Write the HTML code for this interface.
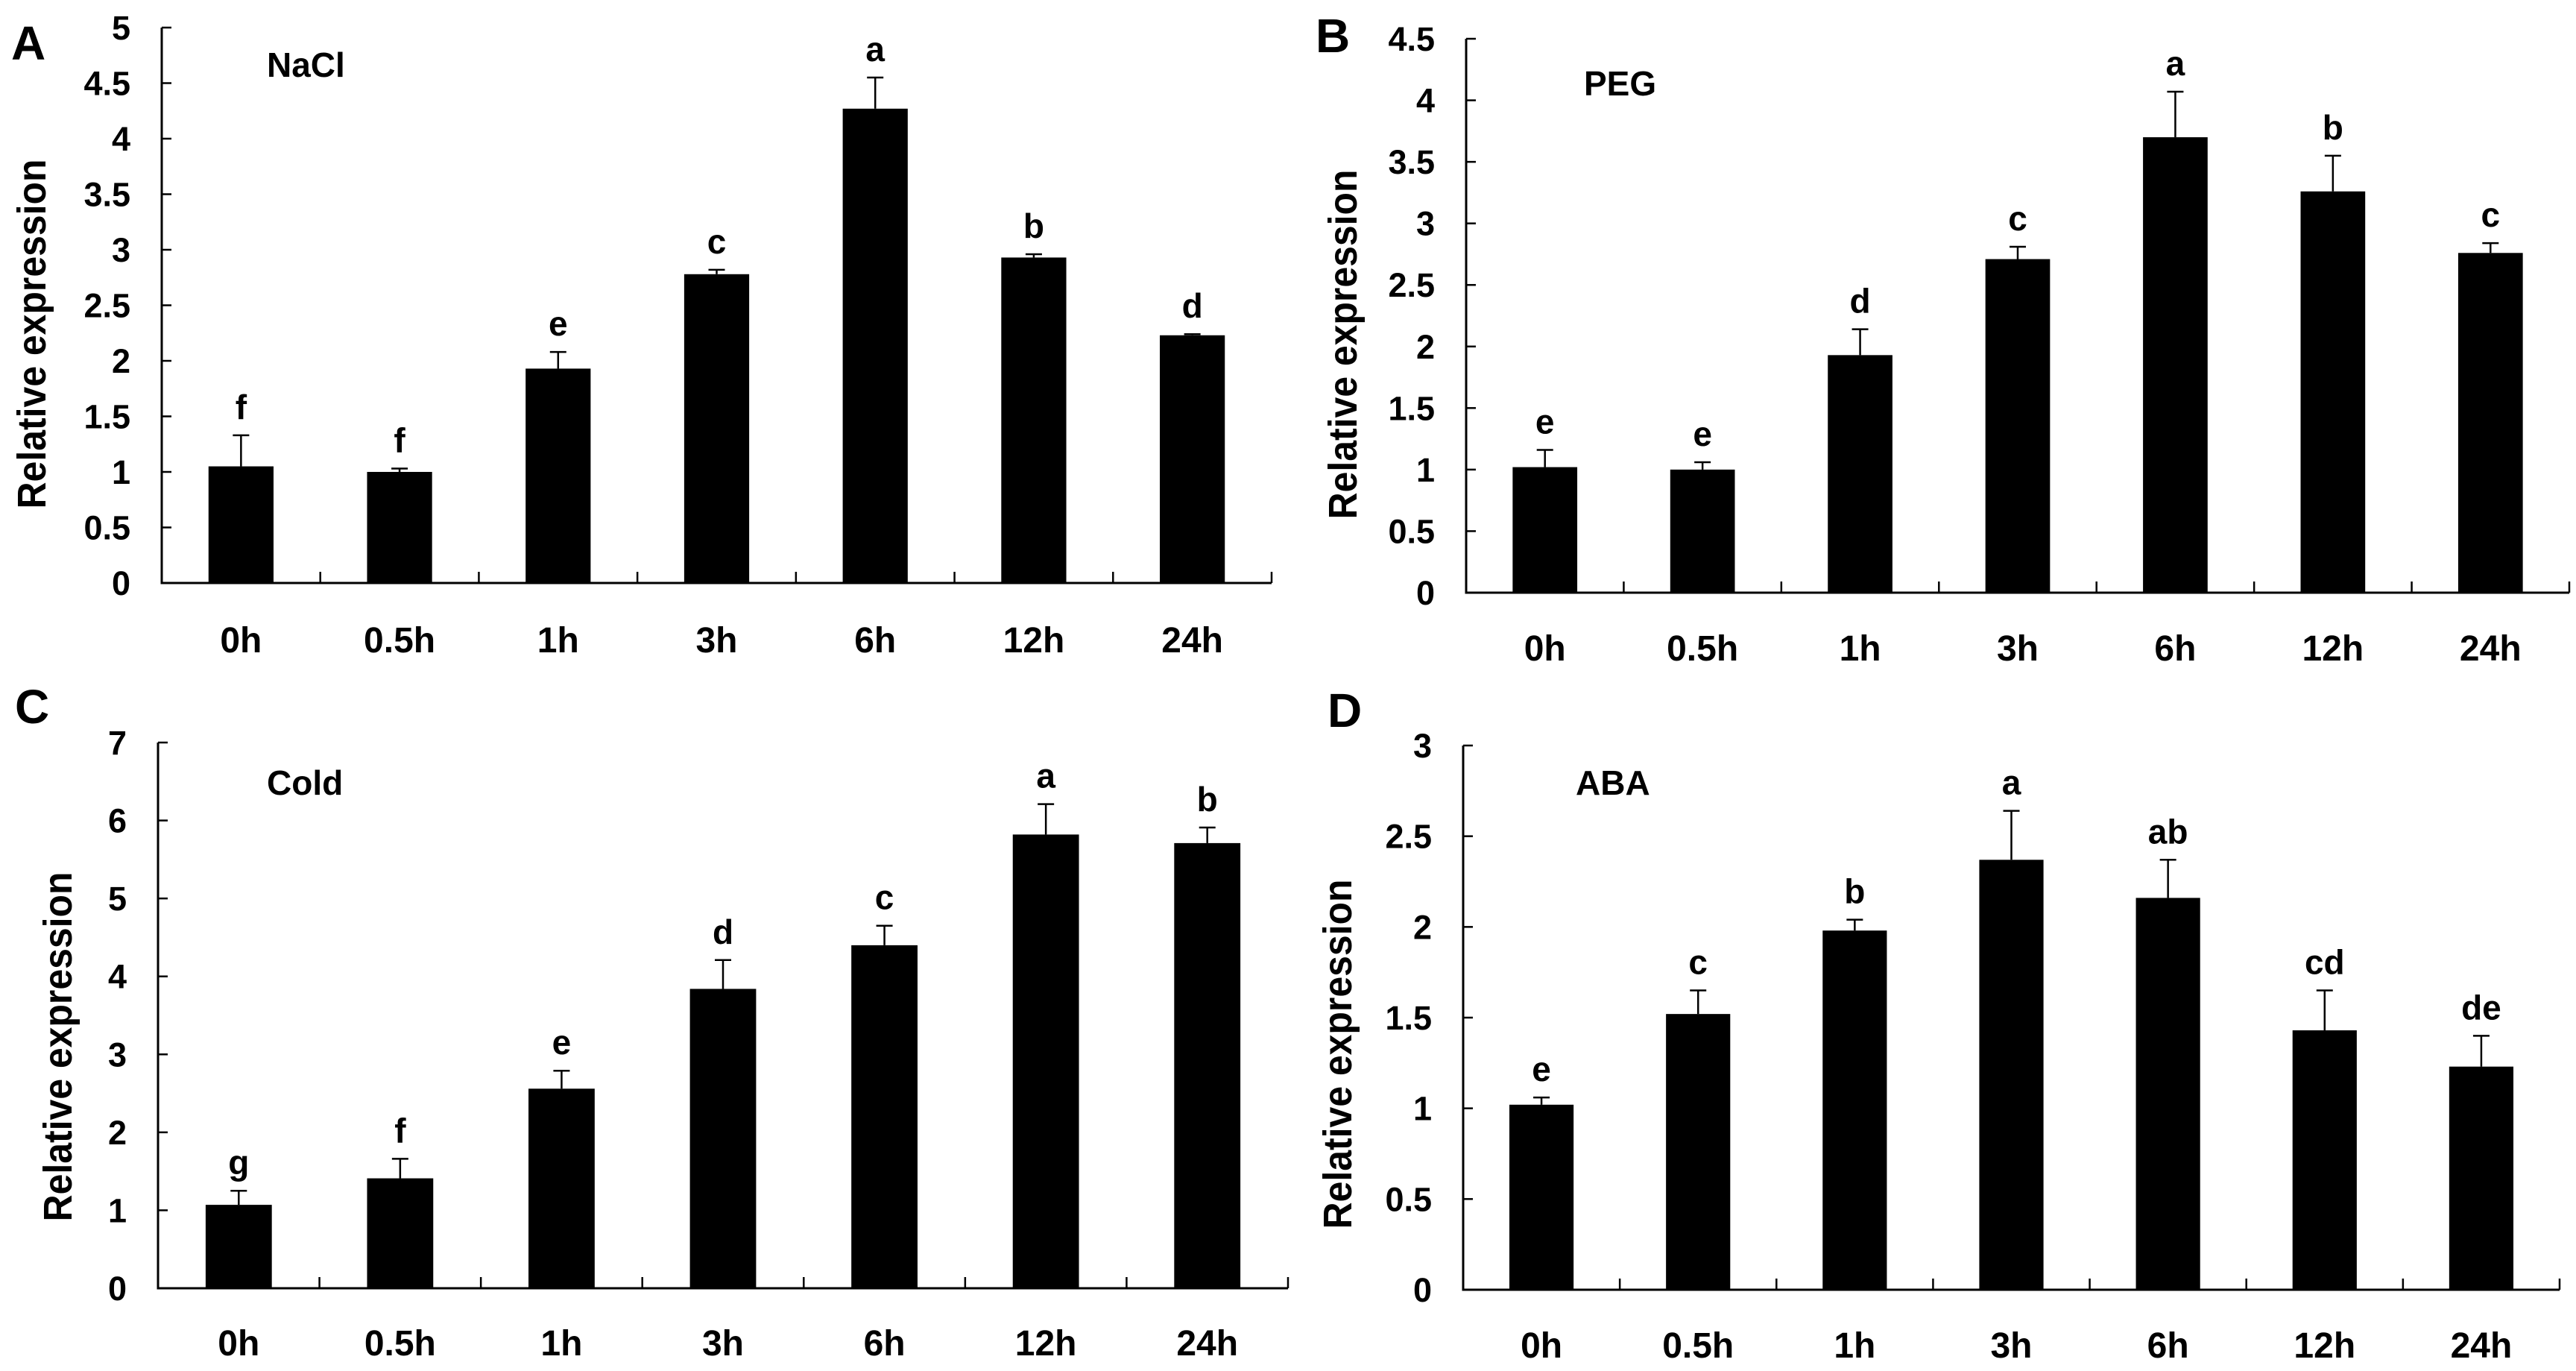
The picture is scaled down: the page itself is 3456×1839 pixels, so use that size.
<!DOCTYPE html>
<html><head><meta charset="utf-8"><style>
html,body{margin:0;padding:0;background:#fff;}
svg{display:block;}
text{font-family:"Liberation Sans",Arial,sans-serif;font-weight:bold;fill:#000;}
</style></head><body>
<svg id="fig" width="3456" height="1839" viewBox="0 0 3456 1839" xmlns="http://www.w3.org/2000/svg"></svg>
<script>
const categories = ["0h","0.5h","1h","3h","6h","12h","24h"];
const naclValues = [1.05,1.0,1.93,2.78,4.27,2.93,2.23];
const naclErrTop = [1.33,1.03,2.08,2.82,4.55,2.96,2.24];
const naclLetters = ["f","f","e","c","a","b","d"];
const pegValues = [1.02,1.0,1.93,2.71,3.70,3.26,2.76];
const pegErrTop = [1.16,1.06,2.14,2.81,4.07,3.55,2.84];
const pegLetters = ["e","e","d","c","a","b","c"];
const coldValues = [1.07,1.41,2.56,3.84,4.40,5.82,5.71];
const coldErrTop = [1.25,1.66,2.79,4.21,4.65,6.21,5.91];
const coldLetters = ["g","f","e","d","c","a","b"];
const abaValues = [1.02,1.52,1.98,2.37,2.16,1.43,1.23];
const abaErrTop = [1.06,1.65,2.04,2.64,2.37,1.65,1.40];
const abaLetters = ["e","c","b","a","ab","cd","de"];
const naclTicks = ["0","0.5","1","1.5","2","2.5","3","3.5","4","4.5","5"];
const pegTicks = ["0","0.5","1","1.5","2","2.5","3","3.5","4","4.5"];
const coldTicks = ["0","1","2","3","4","5","6","7"];
const abaTicks = ["0","0.5","1","1.5","2","2.5","3"];

const NS="http://www.w3.org/2000/svg";
const svg=document.getElementById('fig');
function mk(tag,attrs,parent){const e=document.createElementNS(NS,tag);for(const k in attrs)e.setAttribute(k,attrs[k]);(parent||svg).appendChild(e);return e;}

const panels=[
 {id:"a",letter:"A",lx:15,ly:80,title:"NaCl",tx:358,ty:103,x0:217,x1:1706,y0:782,yT:37,max:5,vals:naclValues,err:naclErrTop,lets:naclLetters,ticks:naclTicks,xlb:875,ytx:61,yty:448},
 {id:"b",letter:"B",lx:1765,ly:70,title:"PEG",tx:2125,ty:128,x0:1967,x1:3447,y0:795,yT:52,max:4.5,vals:pegValues,err:pegErrTop,lets:pegLetters,ticks:pegTicks,xlb:886,ytx:1820,yty:462},
 {id:"c",letter:"C",lx:20,ly:970,title:"Cold",tx:358,ty:1066,x0:212,x1:1728,y0:1728,yT:996,max:7,vals:coldValues,err:coldErrTop,lets:coldLetters,ticks:coldTicks,xlb:1818,ytx:96,yty:1404},
 {id:"d",letter:"D",lx:1781,ly:975,title:"ABA",tx:2114,ty:1066,x0:1963,x1:3434,y0:1730,yT:1000,max:3,vals:abaValues,err:abaErrTop,lets:abaLetters,ticks:abaTicks,xlb:1821,ytx:1813,yty:1414}
];

panels.forEach(p=>{
 const g=mk('g',{});
 
 
 const ys=v=>p.y0-(v/p.max)*(p.y0-p.yT);
 const cw=(p.x1-p.x0)/categories.length;
 const xc=i=>p.x0+cw*(i+0.5);
 const pl=mk('text',{x:p.lx,y:p.ly,'font-size':64},g);pl.textContent=p.letter;
 
 
 const tt=mk('text',{x:p.tx,y:p.ty,'font-size':46},g);tt.textContent=p.title;
 
 
 const yt=mk('text',{x:0,y:0,'font-size':54,'text-anchor':'middle',textLength:469,lengthAdjust:'spacingAndGlyphs',transform:`translate(${p.ytx},${p.yty}) rotate(-90)`},g);
 yt.textContent="Relative expression";
 
 
 const ya=mk('line',{x1:p.x0,y1:p.yT,x2:p.x0,y2:p.y0+1.5,stroke:'#000','stroke-width':3},g);
 
 
 const xa=mk('line',{x1:p.x0-1.5,y1:p.y0,x2:p.x1,y2:p.y0,stroke:'#000','stroke-width':3},g);
 
 
 p.ticks.forEach(t=>{
  const y=ys(parseFloat(t));
  const tk=mk('line',{x1:p.x0,y1:y,x2:p.x0+13,y2:y,stroke:'#000','stroke-width':2.5},g);
  
  
  const tl=mk('text',{x:p.x0-42,y:y+16,'font-size':45,'text-anchor':'end'},g);tl.textContent=t;
  
  
 });
 for(let i=1;i<=categories.length;i++){
  const x=p.x0+cw*i;
  const tk=mk('line',{x1:x,y1:p.y0,x2:x,y2:p.y0-15,stroke:'#000','stroke-width':2.5},g);
  
  
 }
 const bw=cw*0.41;
 categories.forEach((c,i)=>{
  const x=xc(i);
  const eb=mk('line',{x1:x,y1:ys(p.vals[i]),x2:x,y2:ys(p.err[i]),stroke:'#000','stroke-width':2.5},g);
  
  
  const cap=mk('line',{x1:x-11,y1:ys(p.err[i]),x2:x+11,y2:ys(p.err[i]),stroke:'#000','stroke-width':2.5},g);
  
  
  const b=mk('rect',{x:x-bw/2,y:ys(p.vals[i]),width:bw,height:p.y0-ys(p.vals[i]),fill:'#000'},g);
  
  
  const lt=mk('text',{x:x,y:ys(p.err[i])-22,'font-size':46,'text-anchor':'middle'},g);lt.textContent=p.lets[i];
  
  
  const xl=mk('text',{x:x,y:p.xlb,'font-size':48,'text-anchor':'middle'},g);xl.textContent=c;
  
  
 });
});
</script>
</body></html>
